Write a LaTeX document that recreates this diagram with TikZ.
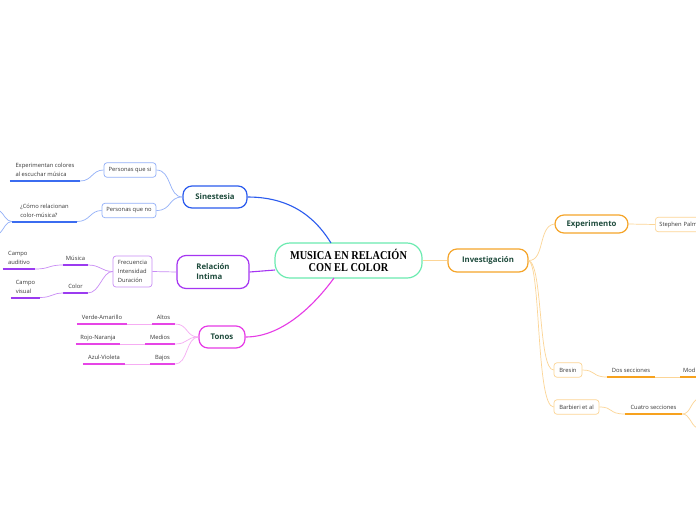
\documentclass[tikz,border=0pt]{standalone}
\usepackage{fontspec}
\setmainfont{Open Sans}
\newfontfamily\titlefont[FakeStretch=0.86]{Liberation Serif}
\definecolor{cBlue}{HTML}{2B5BEE}
\definecolor{cBlueL}{HTML}{93B0F8}
\definecolor{cBlueU}{HTML}{3B6CF0}
\definecolor{cPur}{HTML}{A535F2}
\definecolor{cPurL}{HTML}{C98DF5}
\definecolor{cPurU}{HTML}{9B3BF0}
\definecolor{cMag}{HTML}{E63BE6}
\definecolor{cMagL}{HTML}{F6ACF3}
\definecolor{cMagU}{HTML}{E645E6}
\definecolor{cOr}{HTML}{F5A52A}
\definecolor{cOrL}{HTML}{FCD596}
\definecolor{cOrU}{HTML}{F7A21E}
\definecolor{cGreen}{HTML}{6BEBB0}
\definecolor{cTxt}{HTML}{1E4B3C}
\definecolor{cGray}{HTML}{383838}
\tikzset{
  mainbox/.style={draw, line width=1.2pt, rounded corners=9pt, fill=white,
    font=\bfseries\fontsize{7.8}{10}\selectfont, text=cTxt, inner xsep=4pt, inner ysep=2pt},
  subbox/.style={draw, line width=0.7pt, rounded corners=3pt, fill=white,
    font=\fontsize{5.8}{9}\selectfont, text=cGray, minimum height=14.5pt, inner xsep=4pt, inner ysep=2pt},
  leaf/.style={font=\fontsize{5.8}{9}\selectfont, text=cGray, inner xsep=0pt, inner ysep=2.5pt,
    text depth=1.5pt, anchor=south, align=left},
  ul/.style={line width=2pt},
  lk/.style={line width=0.7pt},
  mainlk/.style={line width=1.1pt}
}
\begin{document}
\begin{tikzpicture}[x=1pt,y=-1pt]
\clip (0,0) rectangle (696,520);
\fill[white] (0,0) rectangle (696,520);

% central
\node[draw=cGreen, line width=1.2pt, rounded corners=15pt, fill=white, minimum width=147pt, minimum height=35pt,
  font=\titlefont\bfseries\fontsize{12}{11.5}\selectfont, text=black, align=center] (cen) at (348.5,260.5)
  {MUSICA EN RELACIÓN\\CON EL COLOR};
\coordinate (cenT) at (331,243);
\coordinate (cenL) at (275,270);
\coordinate (cenB) at (334,278);

% main nodes
\node[mainbox, draw=cBlue, minimum width=64pt, minimum height=22pt] (sin) at (215,197) {Sinestesia};
\node[mainbox, draw=cPur, minimum width=72pt, minimum height=33pt, align=left] (rel) at (213,272) {Relación\\Intima};
\node[mainbox, draw=cMag, minimum width=46pt, minimum height=22pt] (ton) at (222,337) {Tonos};
\node[mainbox, draw=cOr, minimum width=80pt, minimum height=23pt] (inv) at (488,260.5) {Investigación};

\draw[mainlk, cBlue] (sin.east) .. controls (295,197) and (318,222) .. (cenT);
\draw[mainlk, cPur] (rel.east) -- (cenL);
\draw[mainlk, cMag] (ton.east) .. controls (285,337) and (318,300) .. (cenB);
\draw[mainlk, cOrL] (cen.east) -- (inv.west);

% Sinestesia branch
\node[subbox, draw=cBlueL, minimum width=52pt] (psi) at (130,170) {Personas que si};
\node[subbox, draw=cBlueL, minimum width=54pt] (pno) at (129,210.5) {Personas que no};
\draw[lk, cBlueL] (sin.west) .. controls (168,197) and (172,170) .. (psi.east);
\draw[lk, cBlueL] (sin.west) .. controls (168,197) and (172,210.5) .. (pno.east);

\node[leaf, minimum width=70pt] (exp) at (45,181) {Experimentan colores\\al escuchar música};
\draw[ul, cBlueU] (exp.south west) -- (exp.south east);
\draw[lk, cBlueL] (exp.south east) .. controls (92,181) and (92,170) .. (psi.west);

\node[leaf, minimum width=65pt] (como) at (44.5,221.5) {¿Cómo relacionan\\color-música?};
\draw[ul, cBlueU] (como.south west) -- (como.south east);
\draw[lk, cBlueL] (como.south east) .. controls (90,221.5) and (90,210.5) .. (pno.west);
\coordinate (w1) at (0,211);
\coordinate (w2) at (0,233);
\draw[lk, cBlueL] (como.south west) .. controls (6,221.5) and (4,214) .. (w1);
\draw[lk, cBlueL] (como.south west) .. controls (6,221.5) and (4,229) .. (w2);

% Relacion branch
\node[subbox, draw=cPurL, minimum width=39pt, minimum height=31pt, align=left] (fre) at (132.5,271.5)
  {Frecuencia\\Intensidad\\Duración};
\draw[lk, cPurL] (rel.west) -- (fre.east);

\node[leaf, minimum width=25pt] (mus) at (75.5,265) {Música};
\draw[ul, cPurU] (mus.south west) -- (mus.south east);
\node[leaf, minimum width=24pt] (col) at (75.5,293) {Color};
\draw[ul, cPurU] (col.south west) -- (col.south east);
\draw[lk, cPurL] (fre.west) .. controls (102,271.5) and (100,265) .. (mus.south east);
\draw[lk, cPurL] (fre.west) .. controls (102,271.5) and (100,293) .. (col.south east);

\node[leaf, minimum width=32pt] (aud) at (19,269) {Campo\\auditivo};
\draw[ul, cPurU] (aud.south west) -- (aud.south east);
\draw[lk, cPurL] (aud.south east) .. controls (50,269) and (48,265) .. (mus.south west);
\node[leaf, minimum width=29pt] (vis) at (25.5,297.5) {Campo\\visual};
\draw[ul, cPurU] (vis.south west) -- (vis.south east);
\draw[lk, cPurL] (vis.south east) .. controls (52,297.5) and (52,293) .. (col.south west);

% Tonos branch
\node[leaf, minimum width=23pt] (alt) at (163.5,324) {Altos};
\node[leaf, minimum width=30pt] (med) at (160,344) {Medios};
\node[leaf, minimum width=25pt] (baj) at (162.5,364) {Bajos};
\node[leaf, minimum width=50pt] (ver) at (102,324) {Verde-Amarillo};
\node[leaf, minimum width=44pt] (roj) at (98,344) {Rojo-Naranja};
\node[leaf, minimum width=42pt] (azu) at (104,364) {Azul-Violeta};
\foreach \n in {alt,med,baj,ver,roj,azu}{
  \draw[ul, cMagU] (\n.south west) -- (\n.south east);
}
\draw[line width=1pt, cMagL] (ver.south east) -- (alt.south west);
\draw[line width=1pt, cMagL] (roj.south east) -- (med.south west);
\draw[line width=1pt, cMagL] (azu.south east) -- (baj.south west);
\draw[lk, cMagL] (ton.west) .. controls (186,337) and (188,324) .. (alt.south east);
\draw[lk, cMagL] (ton.west) .. controls (186,337) and (188,344) .. (med.south east);
\draw[lk, cMagL] (ton.west) .. controls (186,337) and (188,364) .. (baj.south east);

% Investigacion branch
\node[mainbox, draw=cOr, minimum width=73pt, minimum height=18pt] (exm) at (591.5,224) {Experimento};
\node[subbox, draw=cOrL, anchor=west, text width=52pt, align=left] (ste) at (655,224.5) {Stephen Palm};
\node[subbox, draw=cOrL, minimum width=28pt] (bre) at (568,370) {Bresin};
\node[subbox, draw=cOrL, minimum width=45pt] (bar) at (576.5,407) {Barbieri et al};
\draw[lk, cOrL] (inv.east) .. controls (545,261) and (538,226) .. (exm.west);
\draw[lk, cOrL] (exm.east) -- (ste.west);
\draw[lk, cOrL] (inv.east) .. controls (543,264) and (538,370) .. (bre.west);
\draw[lk, cOrL] (inv.east) .. controls (541,266) and (536,407) .. (bar.west);

\node[leaf, minimum width=48pt] (dos) at (631,377) {Dos secciones};
\draw[ul, cOrU] (dos.south west) -- (dos.south east);
\draw[lk, cOrL] (bre.east) .. controls (596,370) and (592,377) .. (dos.south west);
\node[leaf, anchor=south west, inner xsep=3pt, text width=24pt, align=left] (mod) at (680,377) {Mod};
\draw[ul, cOrU] (mod.south west) -- (mod.south east);
\draw[lk, cOrL] (dos.south east) -- (mod.south west);

\node[leaf, minimum width=57pt] (cua) at (653.5,414) {Cuatro secciones};
\draw[ul, cOrU] (cua.south west) -- (cua.south east);
\draw[lk, cOrL] (bar.east) .. controls (614,407) and (608,414) .. (cua.south west);
\coordinate (e1) at (697,399);
\coordinate (e2) at (697,428);
\draw[lk, cOrL] (cua.south east) .. controls (690,414) and (690,404) .. (e1);
\draw[lk, cOrL] (cua.south east) .. controls (690,414) and (690,424) .. (e2);
\end{tikzpicture}
\end{document}
